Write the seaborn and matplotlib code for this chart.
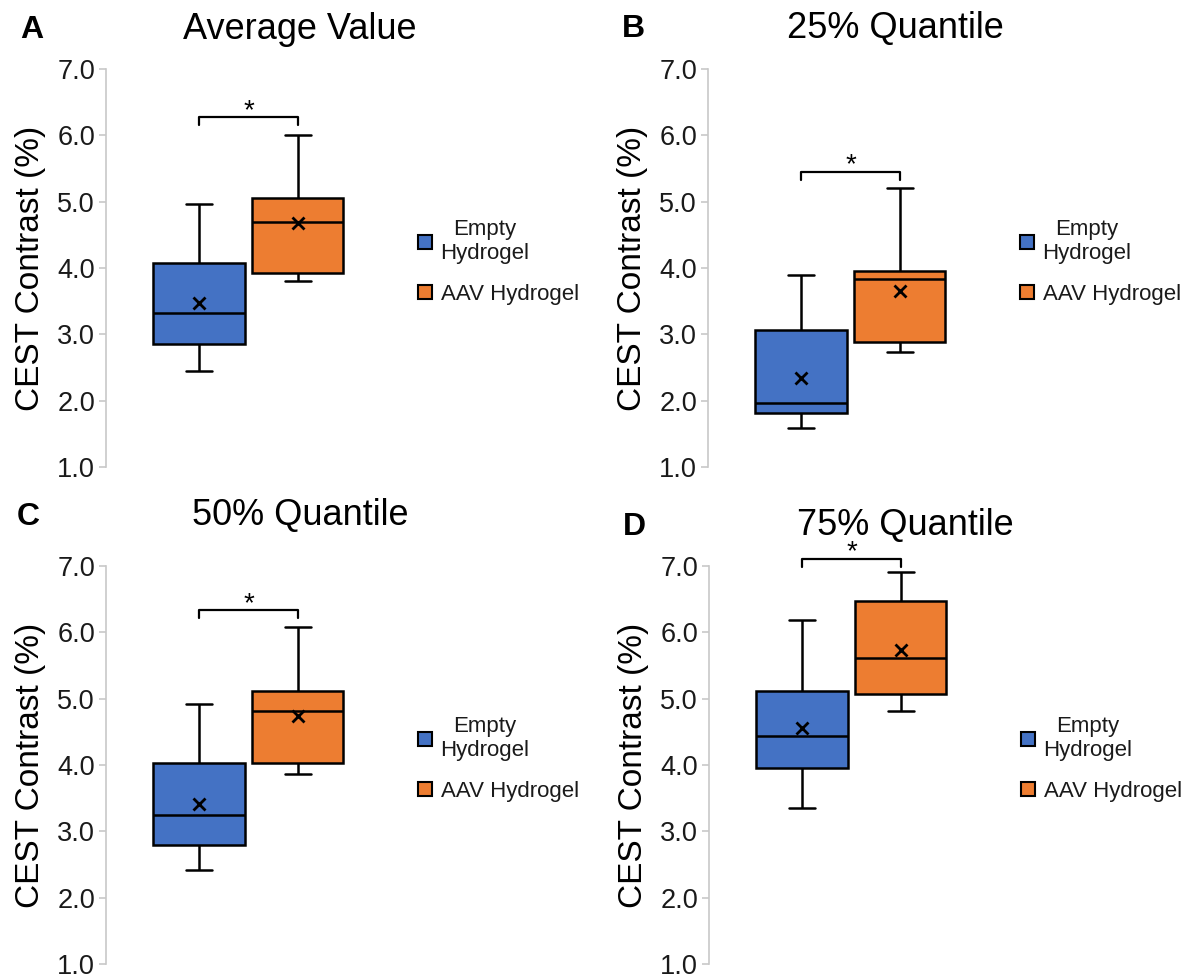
import numpy as np
import pandas as pd
import seaborn as sns
import matplotlib.pyplot as plt
from matplotlib.patches import Patch

groups = ["Empty Hydrogel", "AAV Hydrogel"]
legend_labels = ["Empty\nHydrogel", "AAV Hydrogel"]
panel_titles = ["Average Value", "25% Quantile", "50% Quantile", "75% Quantile"]
panel_letters = ["A", "B", "C", "D"]

# min, Q1, median, Q3, max of each box
empty_box = [
    [2.44, 2.85, 3.32, 4.08, 4.97],
    [1.59, 1.81, 1.96, 3.06, 3.90],
    [2.41, 2.80, 3.25, 4.03, 4.92],
    [3.35, 3.95, 4.44, 5.12, 6.19],
]
aav_box = [
    [3.80, 3.93, 4.70, 5.06, 6.00],
    [2.73, 2.88, 3.84, 3.95, 5.20],
    [3.87, 4.03, 4.81, 5.11, 6.08],
    [4.82, 5.07, 5.61, 6.47, 6.91],
]
empty_mean = [3.47, 2.34, 3.41, 4.56]
aav_mean = [4.68, 3.65, 4.74, 5.74]
bracket_y = [6.27, 5.45, 6.33, 7.11]
yticks = [1.0, 2.0, 3.0, 4.0, 5.0, 6.0, 7.0]
colors = ["#4472C4", "#ED7D31"]

sns.set_theme(style="white")
plt.rcParams['font.family'] = ['Liberation Sans', 'DejaVu Sans']
plt.rcParams['text.color'] = 'black'
plt.rcParams['axes.labelcolor'] = 'black'

fig = plt.figure(figsize=(11.98, 9.8), dpi=100)
W, H = 1198, 980

# axes placement in pixels: left spine x, top y
ax_px = [(106, 69), (708, 69), (106, 566), (709, 566)]
title_px = [(300, 39), (895, 38), (300, 525), (905, 535)]
letter_px = [(20, 38), (622, 37), (17, 525), (623, 535)]
ax_w, ax_h = 284, 398

for i in range(4):
    left, top = ax_px[i]
    ax = fig.add_axes([left / W, 1 - (top + ax_h) / H, ax_w / W, ax_h / H])

    df = pd.DataFrame({
        "group": [groups[0]] * 5 + [groups[1]] * 5,
        "value": empty_box[i] + aav_box[i],
    })
    sns.boxplot(data=df, x="group", y="value", hue="group", order=groups,
                hue_order=groups, palette=colors, saturation=1,
                linecolor="black", linewidth=1.8, width=0.92, whis=(0, 100),
                legend=False, capwidths=0.26, ax=ax)

    # means as x markers
    ax.plot([0, 1], [empty_mean[i], aav_mean[i]], linestyle="none",
            marker="x", color="black", markersize=9, markeredgewidth=2, zorder=5)

    # significance bracket
    by = bracket_y[i]
    ax.plot([0, 0, 1, 1], [by - 0.12, by, by, by - 0.12], color="black",
            linewidth=1.6, clip_on=False, zorder=5)
    ax.text(0.5, by - 0.1, "*", ha="center", va="bottom", fontsize=20,
            color="black", clip_on=False)

    ax.set_xlim(-0.94, 1.93)
    ax.set_ylim(1.0, 7.0)
    ax.set_yticks(yticks)
    ax.set_yticklabels([f"{t:.1f}" for t in yticks])
    ax.set_xticks([])
    ax.set_xlabel("")
    ax.set_ylabel("CEST Contrast (%)", fontsize=24, labelpad=8)
    for s in ["top", "right", "bottom"]:
        ax.spines[s].set_visible(False)
    ax.spines["left"].set_color("#c8c8c8")
    ax.spines["left"].set_linewidth(1.2)
    ax.tick_params(axis="y", left=True, length=5, width=1.2, color="#c8c8c8",
                   labelsize=19.5, labelcolor="#1a1a1a", pad=3)

    handles = [Patch(facecolor=c, edgecolor="black", linewidth=1.5) for c in colors]
    leg = ax.legend(handles, legend_labels, loc="center left",
                    bbox_to_anchor=(1.1, 0.515), frameon=False, fontsize=16,
                    handlelength=0.6, handleheight=0.6, handletextpad=0.4,
                    labelspacing=0.9, borderpad=0, borderaxespad=0)
    for t in leg.get_texts():
        t.set_multialignment("center")
        t.set_color("#1a1a1a")

    tx, ty = title_px[i]
    fig.text(tx / W, 1 - ty / H, panel_titles[i], ha="center", va="baseline",
             fontsize=26)
    lx, ly = letter_px[i]
    fig.text(lx / W, 1 - ly / H, panel_letters[i], ha="left", va="baseline",
             fontsize=23, fontweight="bold")

fig.savefig("out.png", dpi=100)
